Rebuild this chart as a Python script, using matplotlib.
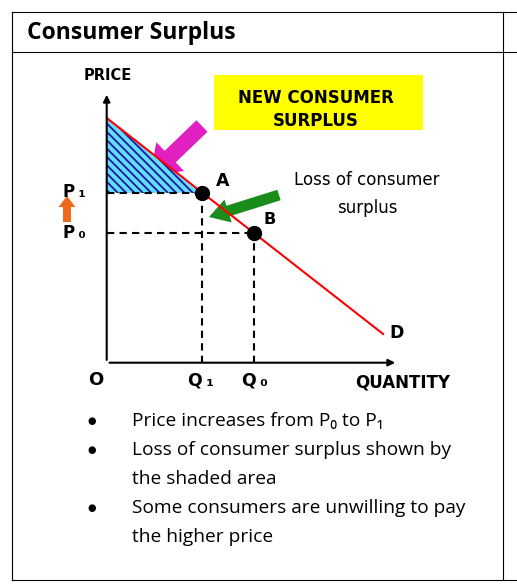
import matplotlib
matplotlib.use("Agg")
import matplotlib.pyplot as plt
from matplotlib.patches import Polygon, FancyArrow, Rectangle
plt.rcParams['hatch.linewidth'] = 1.3

# data (economic units)
demand_q = [0.0, 9.49]
demand_p = [9.04, 1.06]
Q1, P1 = 3.27, 6.28
Q0, P0 = 5.06, 4.78
title = "Consumer Surplus"
bullets = [["Price increases from P\u2080 to P\u2081"],
           ["Loss of consumer surplus shown by", "the shaded area"],
           ["Some consumers are unwilling to pay", "the higher price"]]

W, H = 517, 585
fig = plt.figure(figsize=(W/100, H/100), dpi=100)
ov = fig.add_axes([0, 0, 1, 1])
ov.set_xlim(0, W); ov.set_ylim(H, 0); ov.axis("off")

for (x0, y0, x1, y1) in [(12, 12, 517, 12), (12, 52, 517, 52), (12, 580, 517, 580),
                         (12, 12, 12, 580), (503, 12, 503, 580)]:
    ov.plot([x0, x1], [y0, y1], color="black", lw=0.8)
ov.text(27, 33, title, fontsize=16.5, fontweight="bold", family="Open Sans", va="center")

y = 421
for b in bullets:
    ov.text(92, y, "\u25CF", fontsize=7, ha="center", va="center")
    for line in b:
        ov.text(132, y, line, fontsize=13.8, family="Open Sans", va="center")
        y += 29

x0p, x1p, y0p, y1p = 106.7, 398, 92, 362.7
ax = fig.add_axes([x0p/W, 1 - y1p/H, (x1p - x0p)/W, (y1p - y0p)/H])
ax.set_xlim(0, 10); ax.set_ylim(0, 10)
ax.axis("off")
ax.annotate("", xy=(0, 10), xytext=(0, 0), arrowprops=dict(arrowstyle="-|>", color="black", lw=1.5))
ax.annotate("", xy=(10, 0), xytext=(0, 0), arrowprops=dict(arrowstyle="-|>", color="black", lw=1.5))
ax.add_patch(Polygon([(0, demand_p[0]), (0, P1), (Q1, P1)], closed=True,
                     facecolor="#66ddff", edgecolor="#1a1a9a", hatch="\\\\\\\\", lw=0))
ax.plot(demand_q, demand_p, color="red", lw=1.5)
ds = dict(color="black", ls=(0, (3.5, 2.5)), lw=1.5)
ax.plot([0, Q1], [P1, P1], **ds)
ax.plot([0, Q0], [P0, P0], **ds)
ax.plot([Q1, Q1], [0, P1], **ds)
ax.plot([Q0, Q0], [0, P0], **ds)
ax.plot([Q1, Q0], [P1, P0], "o", color="black", ms=10, zorder=5)

bold = dict(fontweight="bold", family="DejaVu Sans")
ov.text(108, 75, "PRICE", fontsize=10.5, ha="center", va="center", **bold)
ov.text(74, 192, "P\u2009\u2081", fontsize=12, ha="center", va="center", **bold)
ov.text(74, 233, "P\u2009\u2080", fontsize=12, ha="center", va="center", **bold)
ov.text(96, 380, "O", fontsize=13, ha="center", va="center", **bold)
ov.text(201, 381, "Q\u2009\u2081", fontsize=12.5, ha="center", va="center", **bold)
ov.text(255, 381, "Q\u2009\u2080", fontsize=12.5, ha="center", va="center", **bold)
ov.text(403, 383, "QUANTITY", fontsize=12, ha="center", va="center", **bold)
ov.text(397, 333, "D", fontsize=12.5, ha="center", va="center", **bold)
ov.text(223, 181, "A", fontsize=12.5, ha="center", va="center", **bold)
ov.text(270, 220, "B", fontsize=11.5, ha="center", va="center", **bold)
ov.text(367, 180, "Loss of consumer", fontsize=12, ha="center", va="center", family="DejaVu Sans")
ov.text(367, 208, "surplus", fontsize=12, ha="center", va="center", family="DejaVu Sans")

ov.add_patch(Rectangle((214, 75), 209, 55, facecolor="#ffff00", edgecolor="none"))
ov.text(316, 98, "NEW CONSUMER", fontsize=12, ha="center", va="center", **bold)
ov.text(316, 121, "SURPLUS", fontsize=12, ha="center", va="center", **bold)

ov.add_patch(FancyArrow(202, 126, -52, 50, width=16, head_width=40, head_length=28,
                        length_includes_head=True, color="#e020c0", lw=0))
ov.add_patch(FancyArrow(279, 195, -70, 22, width=11, head_width=24, head_length=20,
                        length_includes_head=True, color="#1a8c1a", lw=0))
ov.add_patch(FancyArrow(67, 222, 0, -26, width=8, head_width=17, head_length=11,
                        length_includes_head=True, color="#ee6a1a", lw=0))

fig.savefig("out.png", dpi=100)
